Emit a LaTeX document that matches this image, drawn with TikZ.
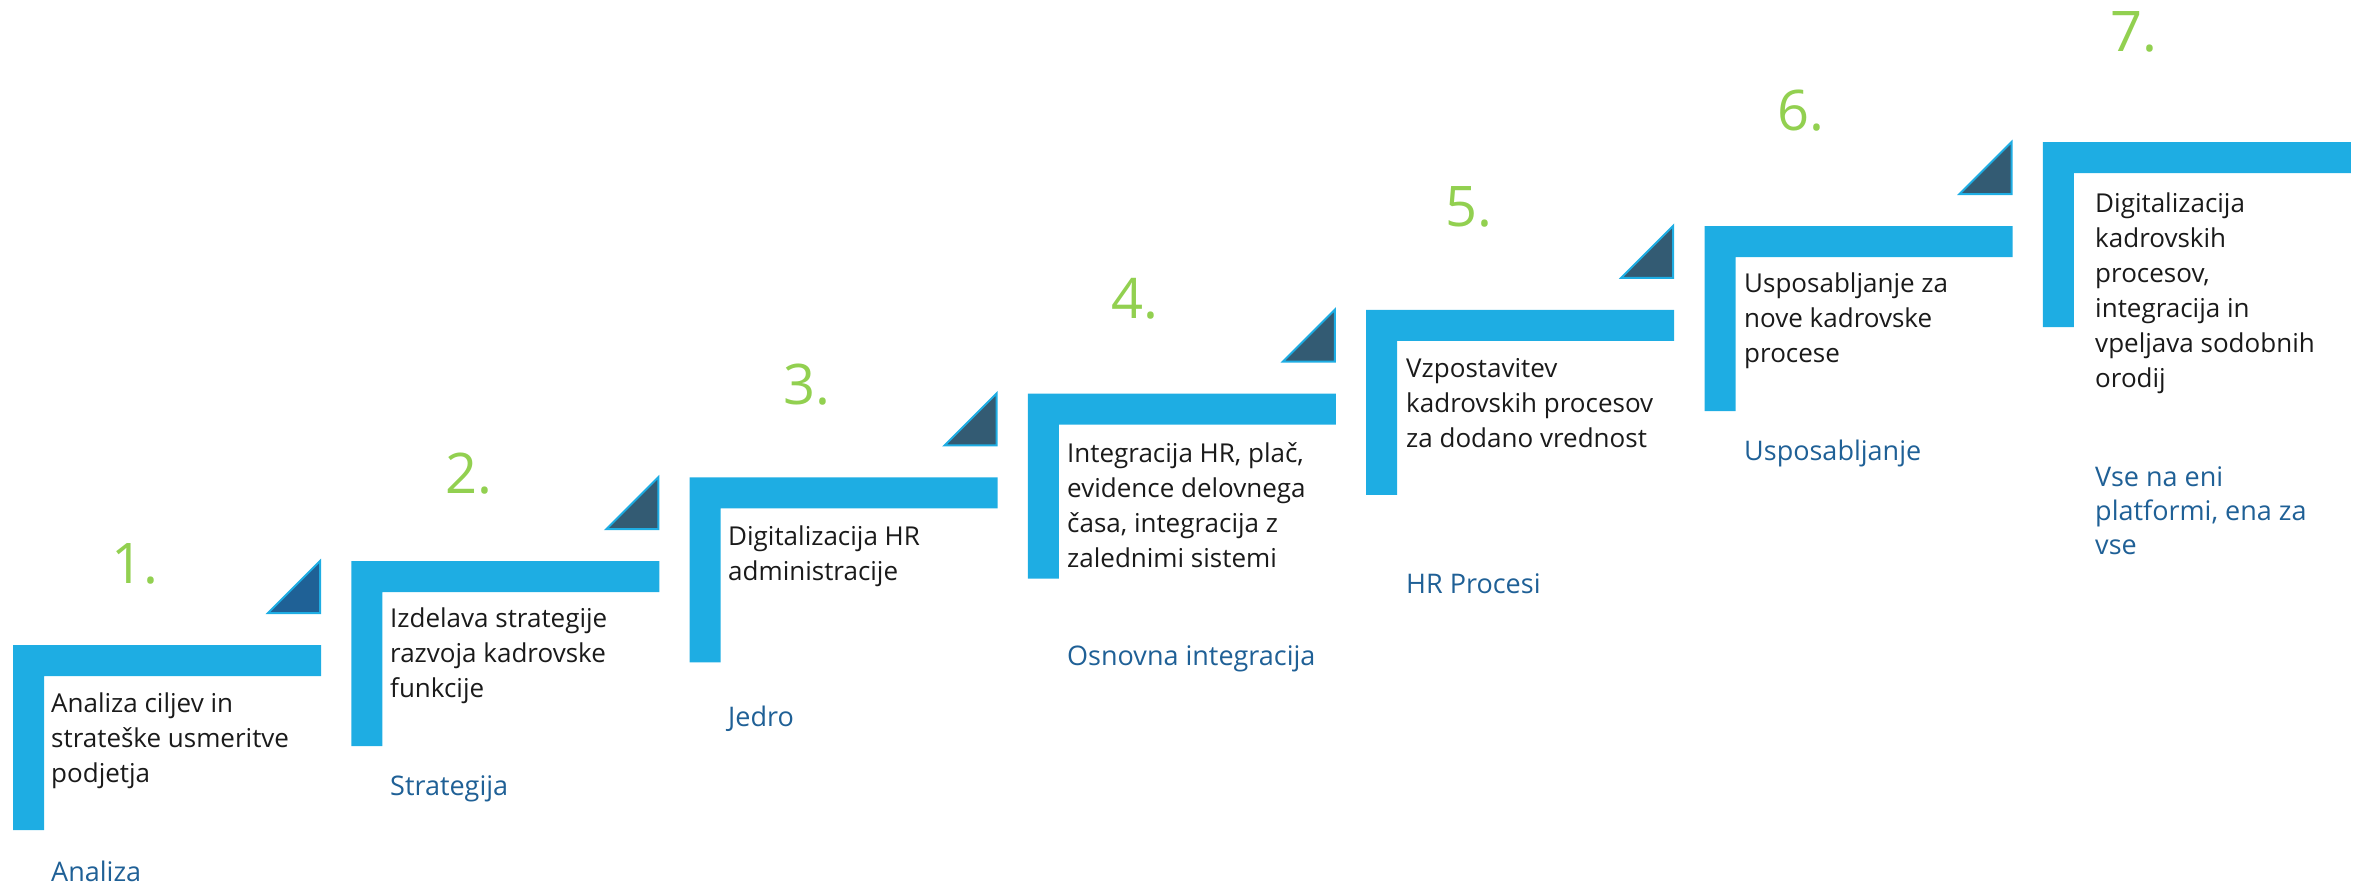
\documentclass[tikz,border=0pt]{standalone}
\usepackage{fontspec}
\setmainfont{Open Sans}
\definecolor{stepblue}{RGB}{30,173,227}
\definecolor{trifirst}{RGB}{31,97,150}
\definecolor{tridark}{RGB}{51,91,115}
\definecolor{numgreen}{RGB}{146,208,80}
\definecolor{labelblue}{RGB}{31,96,150}
\definecolor{opistext}{RGB}{26,26,26}
\tikzset{
  stopnica/.style={fill=stepblue},
  trikotnik/.style={fill=tridark,draw=stepblue,line width=2pt},
  opis/.style={anchor=north west,inner sep=0pt,align=left,text=opistext,font=\fontsize{26}{35}\selectfont},
  oznaka/.style={anchor=base west,inner sep=0pt,align=left,text=labelblue,font=\fontsize{27}{34}\selectfont},
  stevilka/.style={anchor=base west,inner sep=0pt,text=numgreen,font=\fontsize{56}{60}\selectfont}
}
\begin{document}
\begin{tikzpicture}[x=1pt,y=-1pt]
\useasboundingbox (0,0) rectangle (2357,886);
\pgfmathsetmacro{\dx}{338.3}
\pgfmathsetmacro{\dy}{83.8}
%steps
\foreach \i in {1,...,7}{
  \coordinate (s\i) at ({13+\dx*(\i-1)},{645-\dy*(\i-1)});
  \fill[stopnica] (s\i)--++(308,0)--++(0,31)--++(-277,0)--++(0,154)--++(-31,0)--cycle;
}
%triangles
\draw[trikotnik,fill=trifirst] (s1)++(307,-32)--++(0,-52)--++(-52,52)--cycle;
\foreach \i in {2,...,6}{
  \draw[trikotnik] (s\i)++(307,-32)--++(0,-52)--++(-52,52)--cycle;
}
%numbers
\node[stevilka] (st1) at (111,583) {1.};
\node[stevilka] (st2) at (445,493) {2.};
\node[stevilka] (st3) at (783,404) {3.};
\node[stevilka] (st4) at (1111,318) {4.};
\node[stevilka] (st5) at (1445,226) {5.};
\node[stevilka] (st6) at (1777,130) {6.};
\node[stevilka] (st7) at (2110,51) {7.};
%descriptions
\node[opis] (opis1) at (51,693) {Analiza ciljev in\\strateške usmeritve\\podjetja};
\node[opis] (opis2) at (390,608) {Izdelava strategije\\razvoja kadrovske\\funkcije};
\node[opis] (opis3) at (728,526) {Digitalizacija HR\\administracije};
\node[opis] (opis4) at (1067,442) {Integracija HR, plač,\\evidence delovnega\\časa, integracija z\\zalednimi sistemi};
\node[opis] (opis5) at (1406,358) {Vzpostavitev\\kadrovskih procesov\\za dodano vrednost};
\node[opis] (opis6) at (1744,273) {Usposabljanje za\\nove kadrovske\\procese};
\node[opis] (opis7) at (2095,193) {Digitalizacija\\kadrovskih\\procesov,\\integracija in\\vpeljava sodobnih\\orodij};
%labels
\node[oznaka] (oznaka1) at (51,881) {Analiza};
\node[oznaka] (oznaka2) at (390,795) {Strategija};
\node[oznaka] (oznaka3) at (728,726) {Jedro};
\node[oznaka] (oznaka4) at (1067,665) {Osnovna integracija};
\node[oznaka] (oznaka5) at (1406,593) {HR Procesi};
\node[oznaka] (oznaka6) at (1744,460) {Usposabljanje};
\node[oznaka,anchor=north west] (oznaka7) at (2095,466) {Vse na eni\\platformi, ena za\\vse};
\end{tikzpicture}
\end{document}
